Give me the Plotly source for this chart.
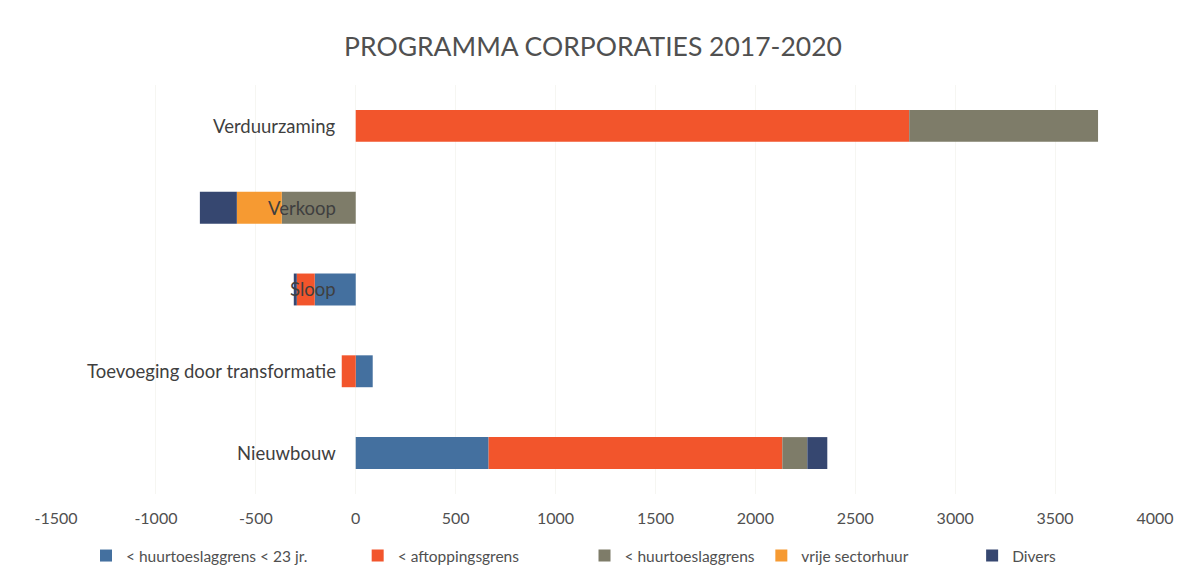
import plotly.graph_objects as go

# Categories (bottom to top)
categories = ["Nieuwbouw", "Toevoeging door transformatie", "Sloop", "Verkoop", "Verduurzaming"]

# Series values per category
huurtoeslag_23 = [665, 85, -205, 0, 0]
aftoppingsgrens = [1470, -70, -90, 0, 2770]
huurtoeslaggrens = [125, 0, 0, -370, 945]
vrije_sectorhuur = [0, 0, 0, -225, 0]
divers = [100, 0, -15, -185, 0]

series_names = ["< huurtoeslaggrens < 23 jr.", "< aftoppingsgrens", "< huurtoeslaggrens",
                "vrije sectorhuur", "Divers"]
series_values = [huurtoeslag_23, aftoppingsgrens, huurtoeslaggrens, vrije_sectorhuur, divers]
series_colors = ["#44709f", "#f2552c", "#7e7c69", "#f69a32", "#364770"]

tick_vals = [-1500, -1000, -500, 0, 500, 1000, 1500, 2000, 2500, 3000, 3500, 4000]
tick_text = [str(v) for v in tick_vals]

font_family = "Lato, 'Open Sans', sans-serif"
text_color = "#505050"

# One legend per series so the entries can be spaced out along the bottom
legend_ids = ["legend", "legend2", "legend3", "legend4", "legend5"]
legend_x = [0.0273, 0.2745, 0.4809, 0.6418, 0.8336]

fig = go.Figure()
for name, vals, col, lid in zip(series_names, series_values, series_colors, legend_ids):
    fig.add_trace(go.Bar(
        y=categories, x=vals, name=name, orientation="h", legend=lid,
        marker=dict(color=col, line=dict(width=0)),
    ))

# Category labels sit next to the value axis at zero
for cat in categories:
    fig.add_annotation(
        x=0, y=cat, xref="x", yref="y", text=cat, showarrow=False,
        xanchor="right", xshift=-18, font=dict(family=font_family, size=18.5, color="#3f3f3f"),
    )

legend_layout = {}
for lid, lx in zip(legend_ids, legend_x):
    legend_layout[lid] = dict(
        orientation="h", x=lx, xanchor="left", xref="paper",
        y=0.016, yanchor="middle", yref="container",
        bgcolor="rgba(0,0,0,0)",
        font=dict(family=font_family, size=15.5, color=text_color),
    )

fig.update_layout(
    width=1186, height=565,
    barmode="relative", bargap=0.61,
    paper_bgcolor="white", plot_bgcolor="white",
    margin=dict(l=56, r=30, t=85, b=70),
    title=dict(text="PROGRAMMA CORPORATIES 2017-2020", x=0.5, xanchor="center",
               y=0.918, yanchor="middle",
               font=dict(family=font_family, size=26.5, color=text_color)),
    xaxis=dict(range=[-1500, 4000], tickvals=tick_vals, ticktext=tick_text,
               showgrid=True, gridcolor="#f6f6f2",
               zeroline=False, showline=False, ticks="", ticklabelstandoff=13,
               tickfont=dict(family=font_family, size=16, color=text_color)),
    yaxis=dict(showticklabels=False, showgrid=False, zeroline=False, showline=False),
    showlegend=True,
    **legend_layout,
)

fig.write_html("out.html")
